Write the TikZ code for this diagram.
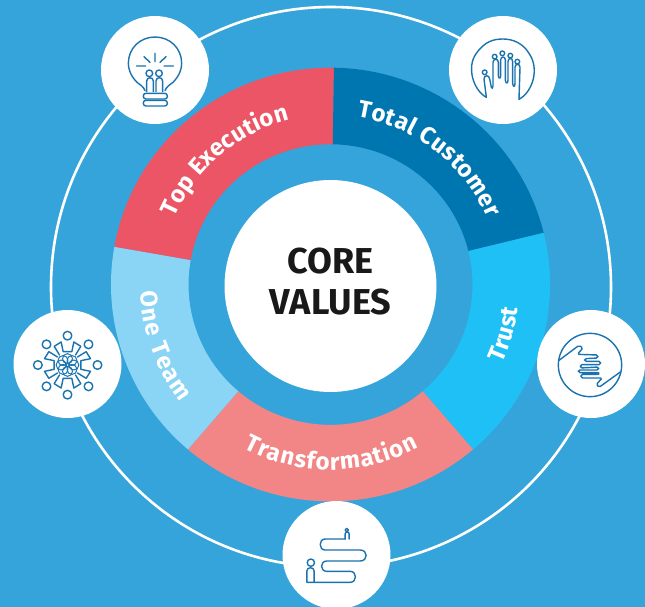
\documentclass[tikz,border=0pt]{standalone}
\usepackage{fontspec}
\setmainfont{Fira Sans}
\usetikzlibrary{decorations.text}
\definecolor{bgblue}{HTML}{35A4DA}
\definecolor{wred}{HTML}{EC5565}
\definecolor{wdark}{HTML}{0076B0}
\definecolor{wbright}{HTML}{1FC0F6}
\definecolor{wlight}{HTML}{8AD4F5}
\definecolor{wsalmon}{HTML}{F28585}
\definecolor{iconblue}{HTML}{1A73AE}
\newcommand{\wedgefont}{\fontsize{24}{24}\bfseries\color{white}}
\newcommand{\wedgeseg}[3]{\fill[#3,yscale=.988] (330.5,-288) ++(#1:219.5) arc[start angle=#1,end angle=#2,radius=219.5] -- ++(#2+180:77.5) arc[start angle=#2,end angle=#1,radius=142] -- cycle;}
\newcommand{\arctext}[4]{\path[decorate,decoration={text along path,text align={fit to path},text={|\wedgefont|#4}}] (330.5,-285) ++(#1:#3) arc[start angle=#1,end angle=#2,radius=#3];}
\tikzset{
  iconspot/.style={circle,fill=white,minimum size=108pt,inner sep=0pt},
  iconline/.style={draw=iconblue,line width=1.4pt,line cap=round,line join=round},
  iconscale/.style={x=0.3333pt,y=-0.3333pt}
}
\begin{document}
\begin{tikzpicture}[x=1pt,y=1pt]
\useasboundingbox (0,0) rectangle (645,-607);
\clip (0,0) rectangle (645,-607);
\fill[bgblue] (0,0) rectangle (645,-607);
\draw[white,line width=2.6pt] (331,-287) circle[radius=280];
\wedgeseg{89.1}{170}{wred}
\wedgeseg{13.8}{89.1}{wdark}
\wedgeseg{-49.5}{13.8}{wbright}
\wedgeseg{-130.5}{-49.5}{wsalmon}
\wedgeseg{170}{229.5}{wlight}
\node[circle,fill=white,minimum size=212pt,inner sep=0pt] (core) at (330.5,-286) {};
\node[align=center,font=\fontsize{36}{41}\selectfont\bfseries,text=black!90] (corelabel) at (330.5,-282) {CORE\\VALUES};
\arctext{156.5}{104}{170}{Top Execution}
\arctext{81}{23}{170}{Total Customer}
\arctext{-24.5}{-7}{189}{Trust}
\arctext{242}{298.5}{185}{Transformation}
\arctext{182}{218}{190}{One Team}
\node[iconspot] (bulb) at (155,-70) {};
\node[iconspot] (hand) at (503,-70) {};
\node[iconspot] (shake) at (591,-364) {};
\node[iconspot] (path) at (336.5,-555) {};
\node[iconspot] (team) at (67.5,-364) {};
% bulb
\begin{scope}[xshift=155pt,yshift=-70pt,iconscale,shift={(-195,-180)}]
\draw[iconline] (165,242) .. controls (160,228) and (150,225) .. (140,216) .. controls (120,195) and (115,175) .. (115,160) .. controls (115,115) and (150,81) .. (195,81) .. controls (240,81) and (275,115) .. (275,160) .. controls (275,175) and (270,195) .. (250,216) .. controls (240,225) and (230,228) .. (225,242);
\draw[iconline] (195,130)--(195,155) (162,140)--(180,157) (228,140)--(210,157) (140,168)--(167,168) (222,168)--(250,168);
\draw[iconline] (178,190) circle[radius=10] (207,190) circle[radius=10];
\draw[iconline] (170,245) -- (170,213) .. controls (170,200) and (190,200) .. (190,213) -- (190,245);
\draw[iconline] (198,245) -- (198,213) .. controls (198,200) and (218,200) .. (218,213) -- (218,245);
\draw[iconline,rounded corners=2.5pt] (160,250) rectangle (232,267);
\draw[iconline,rounded corners=2.5pt] (160,271) rectangle (232,288);
\end{scope}
% raised hand
\begin{scope}[xshift=503pt,yshift=-70pt,iconscale,shift={(-190,-180)}]
\draw[iconline] (140,262) .. controls (100,240) and (80,170) .. (110,130) .. controls (135,95) and (160,87) .. (190,87) .. controls (220,87) and (250,100) .. (268,130) .. controls (300,175) and (280,245) .. (238,268);
\draw[iconline] (140,262) -- (133,207) .. controls (133,194) and (149,194) .. (150,207) -- (155,232) .. controls (156,237) and (160,235) .. (160,228) -- (160,157) .. controls (160,145) and (176,145) .. (176,157) -- (176,197) .. controls (177,207) and (183,207) .. (183,197) -- (183,150) .. controls (183,138) and (197,138) .. (197,150) -- (197,210) .. controls (198,222) and (205,222) .. (205,210) -- (205,155) .. controls (205,142) and (219,142) .. (219,155) -- (219,220) .. controls (220,232) and (226,232) .. (226,220) -- (226,172) .. controls (226,160) and (241,160) .. (241,172) -- (238,268);
\draw[iconline] (135,187) circle[radius=7] (165,140) circle[radius=7] (188,130) circle[radius=7] (212,137) circle[radius=7] (233,155) circle[radius=7];
\end{scope}
% handshake
\begin{scope}[xshift=590pt,yshift=-364pt,iconscale,shift={(-181,-191)}]
\draw[iconline] (181,194) circle[radius=95];
\draw[iconline,rounded corners=1.6pt] (88,180) -- (148,135) -- (160,143) -- (143,162) -- (205,164) -- (205,173) -- (165,175) -- (165,183) -- (213,183) -- (213,193) -- (152,193) -- (152,203) -- (207,200) -- (207,209) -- (146,209) -- (146,217) -- (207,217) -- (207,222) -- (154,222) -- (154,233) -- (218,233) -- (200,252) -- (208,261) -- (272,215);
\end{scope}
% winding path
\begin{scope}[xshift=336.5pt,yshift=-555pt,iconscale,shift={(-199,-180)}]
\draw[iconline] (122,203) circle[radius=11] (230,105) circle[radius=5];
\draw[iconline] (225,132) -- (225,117) .. controls (225,109) and (237,109) .. (237,117) -- (237,132);
\draw[iconline] (225,132) -- (165,132) .. controls (145,132) and (145,165) .. (165,165) -- (270,165) .. controls (294,165) and (294,198) .. (270,198) -- (170,198) .. controls (149,198) and (149,229) .. (170,229) -- (240,229) .. controls (261,229) and (261,262) .. (240,262) -- (132,262) -- (132,228) .. controls (132,215) and (110,215) .. (110,228) -- (110,262) -- (132,262);
\end{scope}
% team
\begin{scope}[xshift=67.5pt,yshift=-364pt,iconscale,shift={(-187,-175)}]
\foreach \hx/\hy in {187/90,124/116,250/116,98/178,277/178,124/242,250/242,187/267}
  \draw[iconline] (\hx,\hy) circle[radius=13];
\begin{scope}[shift={(187,178)}]
\foreach \a in {0,90,180,270}{
  \begin{scope}[rotate=\a]
  \draw[iconline] (-24,-30) -- (-40,-56) -- (-19,-69) -- (-13,-40) -- (13,-40) -- (19,-69) -- (40,-56) -- (24,-30);
  \end{scope}
}
\foreach \a in {0,45,...,315}{
  \draw[iconline,line width=1pt] (\a:19) circle[radius=15];
}
\draw[iconline,line width=1pt] (0,0) circle[radius=6];
\end{scope}
\end{scope}
\end{tikzpicture}
\end{document}
